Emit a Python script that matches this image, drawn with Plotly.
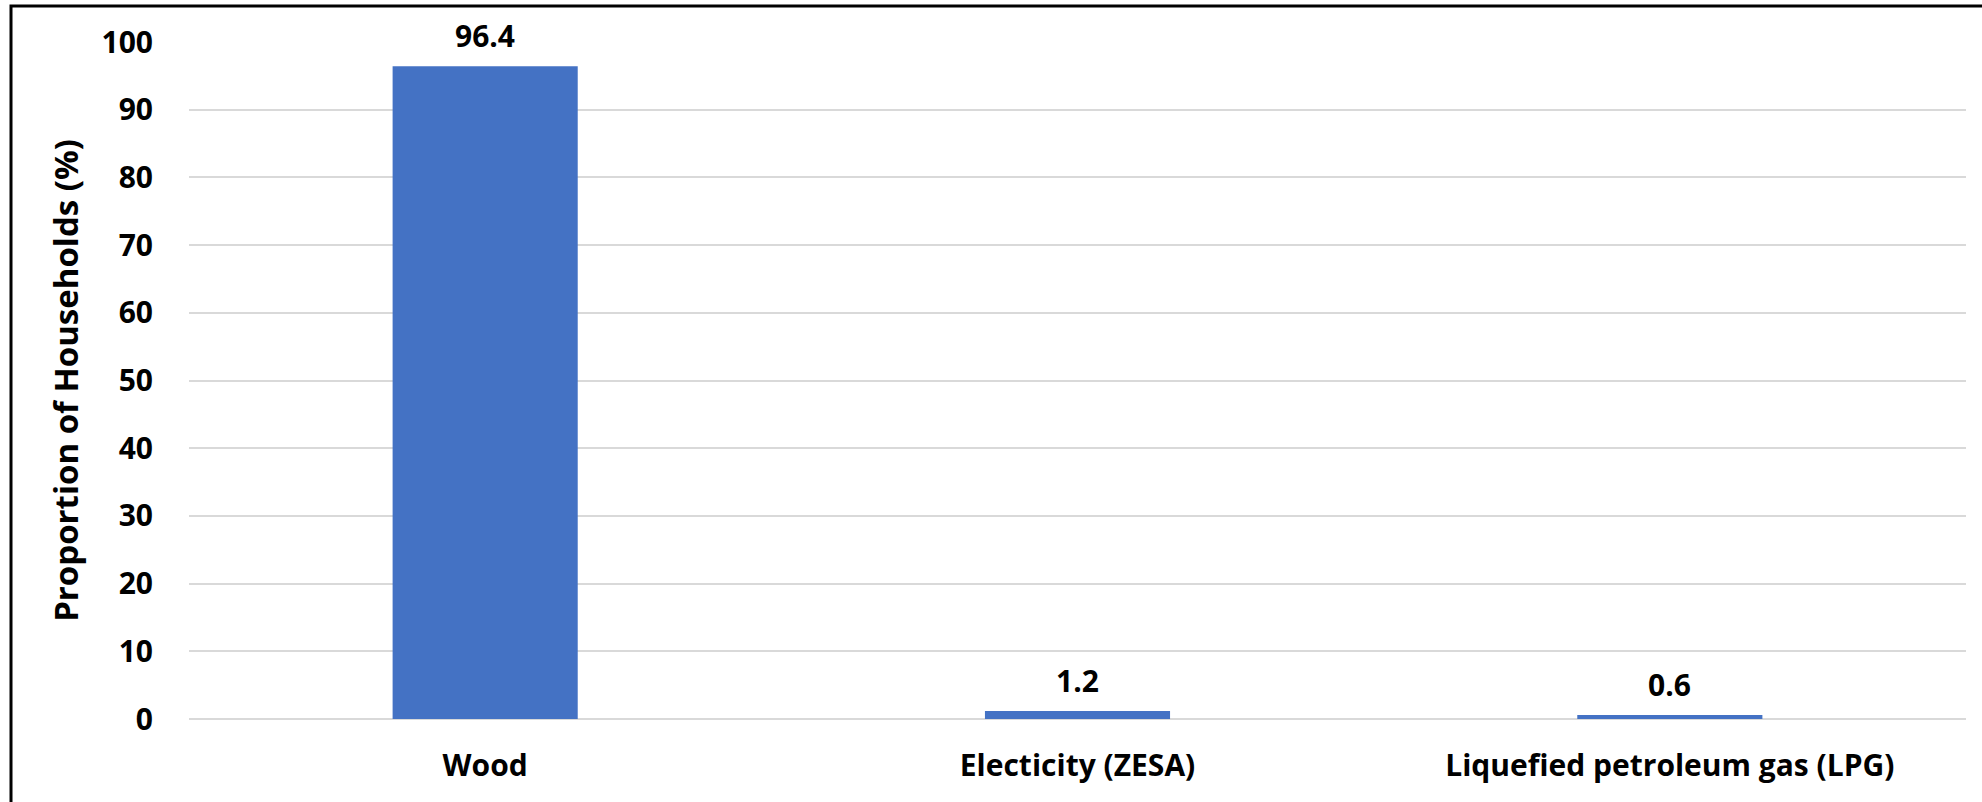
import plotly.graph_objects as go

# Household cooking energy source shares
categories = ["Wood", "Electicity (ZESA)", "Liquefied petroleum gas (LPG)"]
shares = [96.4, 1.2, 0.6]
y_ticks = [0, 10, 20, 30, 40, 50, 60, 70, 80, 90, 100]

BAR_COLOR = "#4472C4"
FONT = "'Open Sans', Lato, sans-serif"

W, H = 1982, 802
L, R, T, B = 189, 16, 42, 83

fig = go.Figure()
fig.add_trace(
    go.Bar(
        x=categories,
        y=shares,
        marker=dict(color=BAR_COLOR, line=dict(width=0)),
        hoverinfo="x+y",
    )
)

# value labels above each bar
for cat, val in zip(categories, shares):
    fig.add_annotation(
        x=cat,
        y=val,
        text=f"{val:.1f}",
        showarrow=False,
        yanchor="bottom",
        yshift=8,
        font=dict(family=FONT, size=30, color="#000000", weight="bold"),
    )

# outer frame
pw = W - L - R
ph = H - T - B
fig.add_shape(
    type="rect",
    xref="paper",
    yref="paper",
    x0=(11 - L) / pw,
    x1=1.2,
    y0=-0.3,
    y1=(H - B - 6) / ph,
    line=dict(color="#000000", width=3),
    fillcolor="rgba(0,0,0,0)",
    layer="above",
)

fig.update_layout(
    width=W,
    height=H,
    margin=dict(l=L, r=R, t=T, b=B, autoexpand=False),
    paper_bgcolor="#ffffff",
    plot_bgcolor="#ffffff",
    bargap=0.6875,
    showlegend=False,
    font=dict(family=FONT, size=30, color="#000000", weight="bold"),
    xaxis=dict(
        showgrid=False,
        showline=False,
        zeroline=False,
        ticks="",
        ticklabelstandoff=26,
        tickfont=dict(family=FONT, size=30, color="#000000", weight="bold"),
    ),
    yaxis=dict(
        range=[0, 100],
        tickvals=y_ticks,
        showgrid=True,
        gridcolor="#d9d9d9",
        gridwidth=1.5,
        zeroline=True,
        zerolinecolor="#d9d9d9",
        zerolinewidth=1.5,
        showline=False,
        ticks="",
        ticklabelstandoff=35,
        tickfont=dict(family=FONT, size=30, color="#000000", weight="bold"),
        title=dict(
            text="Proportion of Households (%)",
            standoff=12,
            font=dict(family=FONT, size=33, color="#000000", weight="bold"),
        ),
    ),
)

fig.write_html("out.html")
